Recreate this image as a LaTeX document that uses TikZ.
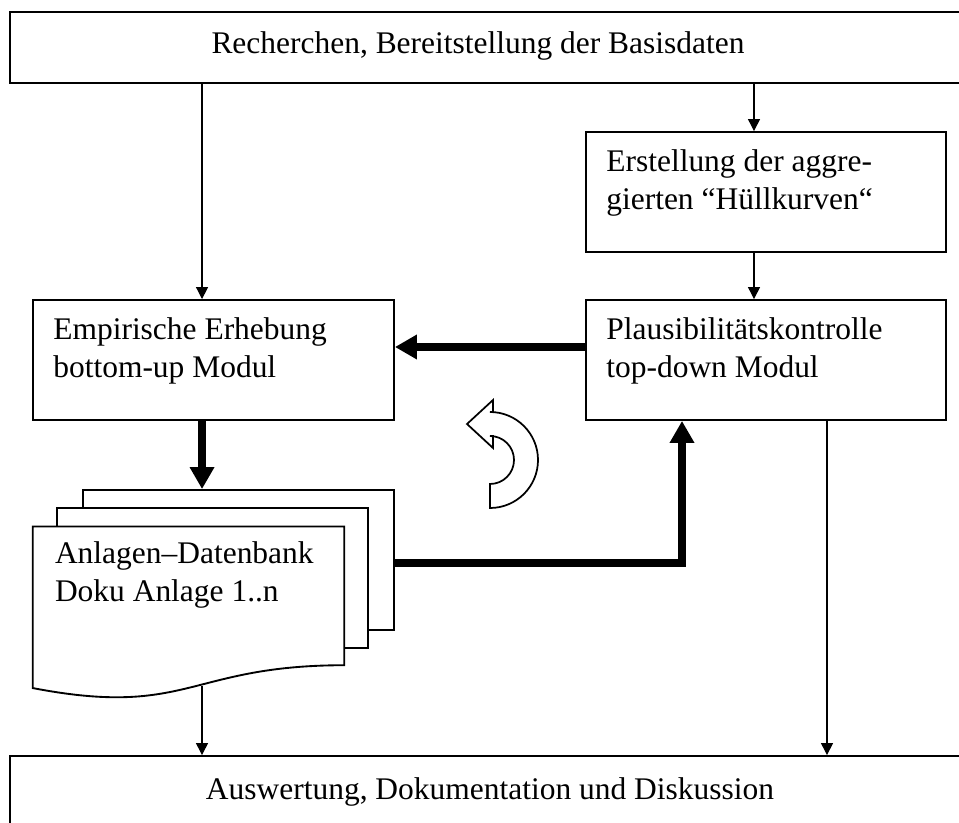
\documentclass[tikz,border=0pt]{standalone}
\usepackage{fontspec}
\setmainfont{Liberation Serif}
\usepackage{tikz}
\usetikzlibrary{arrows.meta,positioning,calc}
\newcommand\figfont{\fontsize{23.6pt}{28.5pt}\selectfont}
\tikzset{
  box/.style={draw, rectangle, line width=1.4pt, fill=white, inner sep=0pt,
    minimum width=270pt, minimum height=90pt},
  wide/.style={box, minimum width=720pt, minimum height=53.25pt, font=\figfont},
  page/.style={draw, rectangle, line width=1.4pt, fill=white,
    minimum width=233.25pt, minimum height=105pt},
  txt/.style={align=left, inner sep=0pt, font=\figfont},
  arr/.style={-{Triangle[length=9pt,width=9pt]}, line width=0.9pt},
  fatarr/.style={-{Triangle[length=16.5pt,width=17.5pt]}, line width=5.5pt},
}
\begin{document}
\begin{tikzpicture}[x=0.75pt,y=-0.75pt]
  \useasboundingbox (0,0) rectangle (959,823);
  \clip (0,0) rectangle (959,823);

  % top and bottom
  \node[wide] (top) at (490,47.5) {};
  \node[txt] (toptxt) at ([xshift=-9pt,yshift=1pt]top.center) {Recherchen, Bereitstellung der Basisdaten};
  \node[wide] (bot) at (490,791.5) {Auswertung, Dokumentation und Diskussion};

  % modules
  \node[box] (ers) at (766,192) {};
  \node[box] (pla) at (766,360) {};
  \node[box, minimum width=270.75pt] (emp) at (213.5,360) {};
  \node[txt, below right=13.9pt and 15.75pt of ers.north west] (erstxt)
    {Erstellung der aggre-\\gierten “Hüllkurven“};
  \node[txt, below right=13.9pt and 15.75pt of pla.north west] (platxt)
    {Plausibilitätskontrolle\\top-down Modul};
  \node[txt, below right=13.9pt and 15.75pt of emp.north west] (emptxt)
    {Empirische Erhebung\\bottom-up Modul};

  % database pages
  \node[page] (pg3) at (238.5,560) {};
  \node[page] (pg2) at (212.5,578) {};
  \node[minimum width=233.25pt, minimum height=129.3pt, inner sep=0pt] (pg1) at (188.5,613) {};
  \draw[line width=1.4pt, fill=white] (pg1.north west) -- (pg1.north east)
    -- ($(pg1.north east)!0.802!(pg1.south east)$)
    .. controls ($(pg1.north)!0.802!(pg1.south)$) and ($(pg1.north)!1.1075!(pg1.south)$)
    .. ($(pg1.north west)!0.934!(pg1.south west)$) -- cycle;
  \node[txt, below right=10.9pt and 16.5pt of pg1.north west] (pg1txt)
    {Anlagen–Datenbank\\Doku Anlage 1..n};
  \coordinate (wave) at (202,686);

  % thin arrows
  \draw[arr] ([xshift=-8.6pt]emp.north |- top.south) -- ([xshift=-8.6pt]emp.north);
  \draw[arr] ([xshift=-9pt]ers.north |- top.south) -- ([xshift=-9pt]ers.north);
  \draw[arr] ([xshift=-9pt]ers.south) -- ([xshift=-9pt]pla.north);
  \draw[arr] ([xshift=45.75pt]pla.south) -- ([xshift=45.75pt]pla.south |- bot.north);
  \draw[arr] (wave) -- (wave |- bot.north);

  % thick arrows
  \draw[fatarr] ([yshift=9.75pt]pla.west) -- ([yshift=9.75pt]emp.east);
  \draw[fatarr] ([xshift=-8.6pt]emp.south) -- ([xshift=-8.6pt]emp.south |- pg3.north);
  \draw[fatarr] ([yshift=-2.25pt]pg3.east) -| ([xshift=-63pt]pla.south);

  % circular arrow
  \draw[line width=1.3pt, line join=miter, fill=white] (490,412)
    arc[start angle=-90, end angle=90, radius=48] -- (490,484)
    arc[start angle=90, end angle=-90, radius=24] -- (493,436)
    -- (493,448) -- (467,424) -- (493,400) -- (493,412) -- cycle;
\end{tikzpicture}
\end{document}
